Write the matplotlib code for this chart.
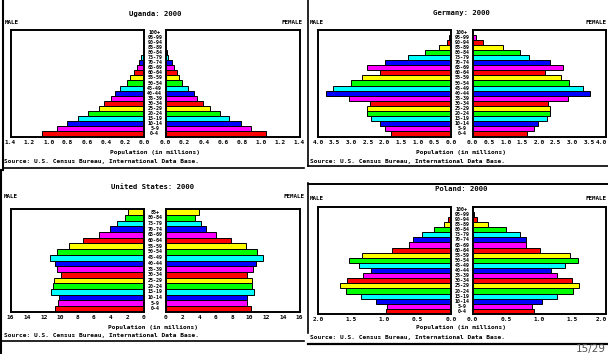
import numpy as np
import matplotlib
matplotlib.use("Agg")
import matplotlib.pyplot as plt
from matplotlib.lines import Line2D
from matplotlib.transforms import blended_transform_factory, ScaledTranslation

# age groups
ages21 = ['0-4', '5-9', '10-14', '15-19', '20-24', '25-29', '30-34', '35-39',
          '40-44', '45-49', '50-54', '55-59', '60-64', '65-69', '70-74',
          '75-79', '80-84', '85-89', '90-94', '95-99', '100+']
ages18 = ages21[:17] + ['85+']

# population in millions, from 0-4 upwards
uganda_male = [1.067, 0.91, 0.805, 0.69, 0.585, 0.476, 0.417, 0.343, 0.305, 0.249,
               0.182, 0.144, 0.10, 0.077, 0.056, 0.028, 0.014, 0.008, 0.004, 0.002, 0.001]
uganda_female = [1.05, 0.893, 0.788, 0.668, 0.567, 0.466, 0.389, 0.326, 0.294, 0.231,
                 0.168, 0.137, 0.123, 0.088, 0.063, 0.028, 0.012, 0.006, 0.003, 0.001, 0.001]

germany_male = [1.79, 1.975, 2.125, 2.40, 2.52, 2.52, 2.43, 3.06, 3.75, 3.54,
                3.0, 2.67, 2.125, 2.52, 2.0, 1.28, 0.77, 0.35, 0.11, 0.05, 0.004]
germany_female = [1.64, 1.855, 1.975, 2.245, 2.335, 2.335, 2.255, 2.88, 3.52, 3.33,
                  2.91, 2.67, 2.185, 2.73, 2.335, 1.70, 1.43, 0.92, 0.30, 0.11, 0.01]

us_male = [10.7, 10.36, 10.24, 11.2, 10.96, 10.84, 10.0, 10.48, 10.7, 11.3,
           10.48, 9.04, 7.37, 5.34, 4.02, 3.19, 2.23, 1.87]
us_female = [10.16, 9.76, 9.68, 10.52, 10.28, 10.36, 9.68, 10.4, 10.76, 11.6,
             10.88, 9.56, 7.85, 5.98, 4.78, 4.18, 3.47, 3.94]

poland_male = [0.97, 0.967, 1.128, 1.348, 1.574, 1.674, 1.559, 1.318, 1.208, 1.378,
               1.529, 1.333, 0.882, 0.627, 0.566, 0.436, 0.251, 0.10, 0.04, 0.02, 0.005]
poland_female = [0.917, 0.887, 1.038, 1.273, 1.514, 1.604, 1.499, 1.273, 1.173, 1.383,
                 1.579, 1.459, 1.018, 0.807, 0.807, 0.717, 0.506, 0.236, 0.07, 0.025, 0.005]

colors = ['#ff0000', '#ff00ff', '#0000ff', '#00ffff', '#00ff00', '#ffff00']

W, H = 608, 354
fig = plt.figure(figsize=(W / 100, H / 100), dpi=100)
fnt = 'DejaVu Sans Mono'


def fx(x):
    return x / W


def fy(y):
    return 1 - y / H


def pyramid(title, ages, male, female, xmax, step, fmt, box, texts, edge=False):
    lx0, lx1, rx0, rx1, yt, yb = box
    axl = fig.add_axes([fx(lx0), fy(yb), fx(lx1 - lx0), (yb - yt) / H])
    axr = fig.add_axes([fx(rx0), fy(yb), fx(rx1 - rx0), (yb - yt) / H])
    y = np.arange(len(ages))
    cols = [colors[i % 6] for i in y]
    axl.barh(y, male, height=1.0, color=cols, edgecolor='black', linewidth=0.7)
    axr.barh(y, female, height=1.0, color=cols, edgecolor='black', linewidth=0.7)
    ticks = np.arange(0, xmax + step / 2, step)
    labels = [fmt % t for t in ticks]
    axl.set_xlim(xmax, 0)
    axr.set_xlim(0, xmax)
    for ax in (axl, axr):
        ax.set_ylim(-0.5, len(ages) - 0.5)
        ax.set_xticks(ticks)
        ax.set_xticklabels(labels, fontsize=4.4, fontfamily=fnt, fontweight='bold')
        ax.set_yticks([])
        ax.tick_params(axis='x', length=0, pad=2.5)
        for s in ax.spines.values():
            s.set_linewidth(1.4)
    if edge:
        # image is cut at the page edge, nudge the last label inside
        lab = axr.get_xticklabels()[-1]
        lab.set_transform(lab.get_transform() + ScaledTranslation(-4 / 100, 0, fig.dpi_scale_trans))
    # age labels between the boxes
    tr = blended_transform_factory(fig.transFigure, axl.transData)
    xc = fx((lx1 + rx0) / 2)
    for i, a in enumerate(ages):
        fig.text(xc, i, a, transform=tr, ha='center', va='center',
                 fontsize=3.6, fontfamily=fnt, fontweight='bold')
    tx, ty, mx, my, fmx, fmy, xlx, xly, sx, sy = texts
    fig.text(fx(tx), fy(ty), title, ha='center', va='center', fontsize=5.2,
             fontfamily=fnt, fontweight='bold')
    fig.text(fx(mx), fy(my), 'MALE', ha='left', va='center', fontsize=4.2,
             fontfamily=fnt, fontweight='bold')
    fig.text(fx(fmx), fy(fmy), 'FEMALE', ha='right', va='center', fontsize=4.2,
             fontfamily=fnt, fontweight='bold')
    fig.text(fx(xlx), fy(xly), 'Population (in millions)', ha='center', va='center',
             fontsize=4.4, fontfamily=fnt, fontweight='bold')
    fig.text(fx(sx), fy(sy), 'Source: U.S. Census Bureau, International Data Base.',
             ha='left', va='center', fontsize=4.4, fontfamily=fnt, fontweight='bold')


pyramid('Uganda: 2000', ages21, uganda_male, uganda_female, 1.4, 0.2, '%.1f',
        (10.5, 144, 165.5, 299.5, 29.5, 136.5),
        (155, 14, 5, 22, 303, 22, 155, 153, 4, 162))
pyramid('Germany: 2000', ages21, germany_male, germany_female, 4.0, 0.5, '%.1f',
        (318, 451, 472.7, 605.7, 29.5, 136.5),
        (461, 13, 310, 22, 606.5, 22, 461, 153, 310, 162), edge=True)
pyramid('United States: 2000', ages18, us_male, us_female, 16, 2, '%d',
        (10.5, 144, 165.7, 299.7, 209.3, 311.7),
        (153, 187, 4, 196, 304, 196, 153, 327, 4, 335.5))
pyramid('Poland: 2000', ages21, poland_male, poland_female, 2.0, 0.5, '%.1f',
        (318, 451, 472.7, 605.7, 206.7, 314),
        (461, 189, 310, 199, 606.5, 199, 461, 327.7, 310, 337.7), edge=True)

# frame lines of the pasted images
segs = [((2.5, 0), (2.5, 170), 1.5), ((1, 170), (1, 354), 1.5),
        ((307.5, 0), (307.5, 166), 1.2), ((307.5, 183), (307.5, 333), 1.2),
        ((2.5, 168), (304, 168), 1.2), ((308, 166), (608, 166), 1.2),
        ((0, 341), (304, 341), 1.2), ((308, 183.5), (608, 183.5), 1.4),
        ((308, 343.5), (608, 343.5), 1.6)]
for (x0, y0), (x1, y1), lw in segs:
    fig.add_artist(Line2D([fx(x0), fx(x1)], [fy(y0), fy(y1)], color='black', lw=lw))

fig.text(fx(606), fy(349), '15/29', ha='right', va='center', fontsize=7.5, color='#555555')

fig.savefig('out.png', dpi=100)
